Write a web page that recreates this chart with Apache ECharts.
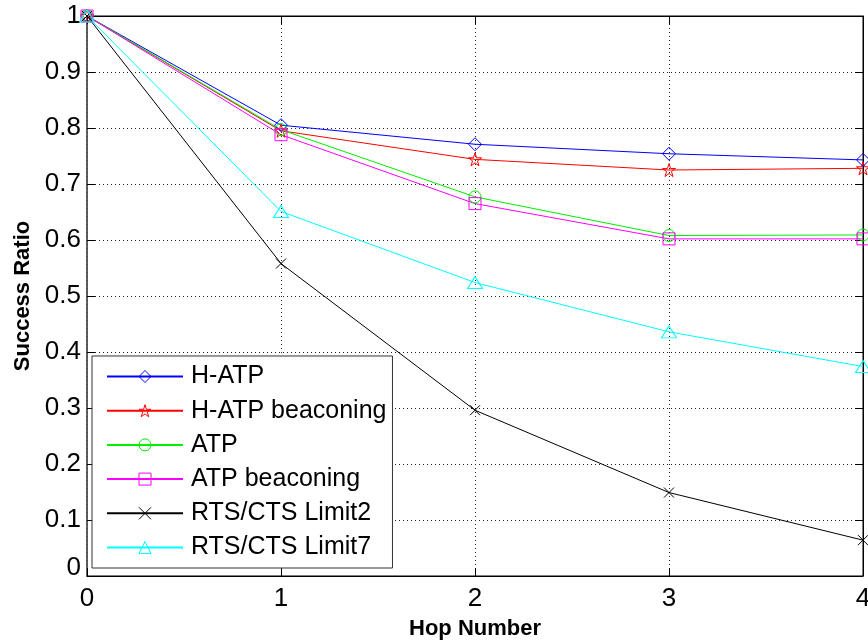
<!DOCTYPE html>
<html>
<head>
<meta charset="utf-8">
<script src="https://cdn.jsdelivr.net/npm/echarts@6/dist/echarts.min.js"></script>
<style>
  html, body { margin: 0; padding: 0; background: #fff; }
  #chart { width: 868px; height: 641px; }
</style>
</head>
<body>
<div id="chart"></div>
<script>
// Hop counts on the x axis
const hops = [0, 1, 2, 3, 4];

// Success ratio per hop for each scheme
const hAtp = [1, 0.805, 0.771, 0.754, 0.743];
const hAtpBeaconing = [1, 0.795, 0.744, 0.725, 0.728];
const atp = [1, 0.797, 0.677, 0.608, 0.609];
const atpBeaconing = [1, 0.788, 0.665, 0.602, 0.602];
const rtsCtsLimit2 = [1, 0.558, 0.296, 0.149, 0.064];
const rtsCtsLimit7 = [1, 0.651, 0.524, 0.436, 0.374];

const seriesNames = ['H-ATP', 'H-ATP beaconing', 'ATP', 'ATP beaconing', 'RTS/CTS Limit2', 'RTS/CTS Limit7'];

const FONT = "'Liberation Sans', Arial, Helvetica, sans-serif";

const STAR = 'path://M0,-1 L0.2245,-0.309 L0.951,-0.309 L0.363,0.118 L0.588,0.809 L0,0.382 L-0.588,0.809 L-0.363,0.118 L-0.951,-0.309 L-0.2245,-0.309 Z';
const CROSS = 'path://M0,0 L10,10 M10,0 L0,10';

function pairs(values) {
  return hops.map((h, i) => [h, values[i]]);
}

function makeSeries(name, values, color, symbol, size) {
  return {
    name: name,
    type: 'line',
    data: pairs(values),
    symbol: symbol,
    symbolSize: size,
    showAllSymbol: true,
    clip: false,
    color: color,
    lineStyle: { color: color, width: 1 },
    itemStyle: { color: 'rgba(255,255,255,0)', borderColor: color, borderWidth: 1 },
    emphasis: { disabled: true },
    animation: false
  };
}

const chart = echarts.init(document.getElementById('chart'), null, { renderer: 'canvas' });

const gridLine = { show: true, lineStyle: { color: '#222', type: [1, 3], width: 1 } };

chart.setOption({
  backgroundColor: '#fff',
  animation: false,
  grid: {
    left: 87, top: 16, right: 5, bottom: 65,
    outerBoundsMode: 'none',
    containLabel: false,
    show: true, borderColor: '#000', borderWidth: 1, backgroundColor: 'transparent'
  },
  legend: {
    data: seriesNames,
    orient: 'vertical',
    left: 92, top: 356,
    padding: [8, 6, 8, 14],
    itemGap: 9.2,
    itemWidth: 76,
    itemHeight: 15,
    backgroundColor: '#fff',
    borderColor: '#333',
    borderWidth: 1,
    itemStyle: { color: 'rgba(255,255,255,0)', borderWidth: 1 },
    textStyle: { fontFamily: FONT, fontSize: 25, color: '#000', padding: [0, 0, 0, 3] },
    selectedMode: false
  },
  xAxis: [{
    type: 'value',
    min: 0, max: 4, interval: 1,
    name: 'Hop Number',
    nameLocation: 'middle',
    nameGap: 42,
    nameTextStyle: { fontFamily: FONT, fontSize: 22, fontWeight: 'bold', color: '#000' },
    axisLine: { show: true, onZero: false, lineStyle: { color: '#000', width: 1 } },
    axisTick: { show: true, inside: true, length: 8, lineStyle: { color: '#000' } },
    axisLabel: { fontFamily: FONT, fontSize: 26, color: '#000', margin: 10 },
    splitLine: gridLine
  }, {
    type: 'value', position: 'top',
    min: 0, max: 4, interval: 1,
    axisLine: { show: true, onZero: false, lineStyle: { color: '#000', width: 1 } },
    axisTick: { show: true, inside: true, length: 8, lineStyle: { color: '#000' } },
    axisLabel: { show: false },
    splitLine: { show: false }
  }],
  yAxis: [{
    type: 'value',
    min: 0, max: 1, interval: 0.1,
    name: 'Success Ratio',
    nameLocation: 'middle',
    nameGap: 52,
    nameTextStyle: { fontFamily: FONT, fontSize: 22, fontWeight: 'bold', color: '#000' },
    axisLine: { show: true, onZero: false, lineStyle: { color: '#555', width: 1.5 } },
    axisTick: { show: true, inside: true, length: 8, lineStyle: { color: '#000' } },
    axisLabel: {
      fontFamily: FONT, fontSize: 26, color: '#000', margin: 6,
      formatter: v => (v === 0 ? '{z|0}' : String(Math.round(v * 10) / 10)),
      rich: { z: { fontFamily: FONT, fontSize: 26, color: '#000', padding: [0, 0, 16, 0] } }
    },
    splitLine: gridLine
  }, {
    type: 'value', position: 'right',
    min: 0, max: 1, interval: 0.1,
    axisLine: { show: true, onZero: false, lineStyle: { color: '#000', width: 1 } },
    axisTick: { show: true, inside: true, length: 8, lineStyle: { color: '#000' } },
    axisLabel: { show: false },
    splitLine: { show: false }
  }],
  series: [
    makeSeries(seriesNames[0], hAtp, '#0000ff', 'diamond', 13),
    makeSeries(seriesNames[1], hAtpBeaconing, '#ff0000', STAR, 13),
    makeSeries(seriesNames[2], atp, '#00ee00', 'circle', 12),
    makeSeries(seriesNames[3], atpBeaconing, '#ff00ff', 'rect', 12),
    makeSeries(seriesNames[4], rtsCtsLimit2, '#000000', CROSS, 10),
    makeSeries(seriesNames[5], rtsCtsLimit7, '#00ffff', 'triangle', [15, 12])
  ]
});
</script>
</body>
</html>
